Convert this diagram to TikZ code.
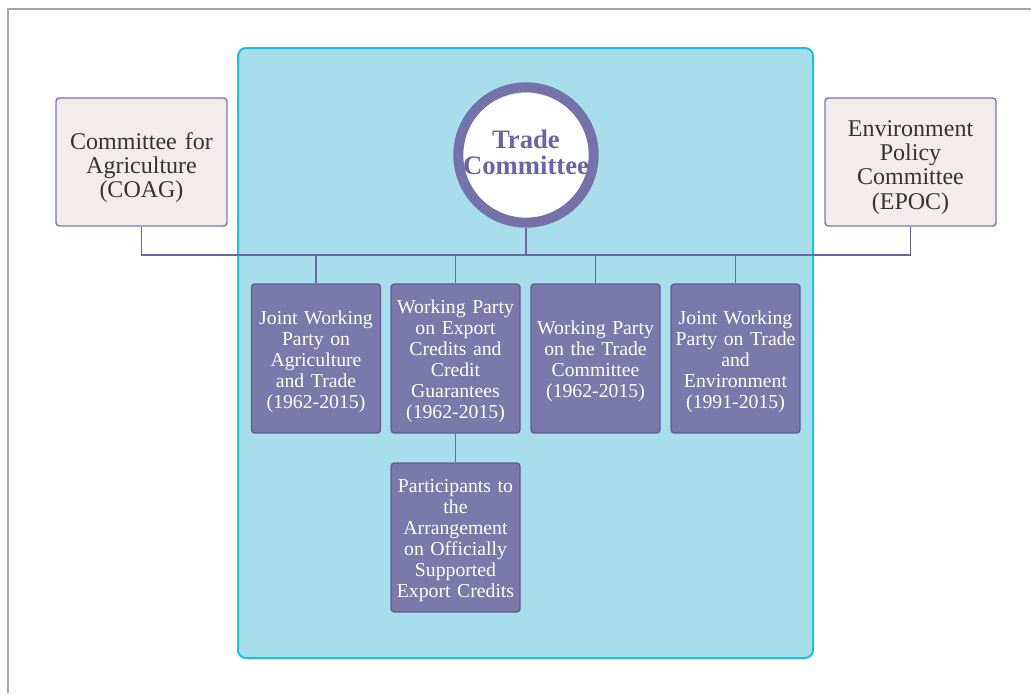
\documentclass[tikz,border=0pt]{standalone}
\usepackage{fontspec}
\setmainfont{Liberation Serif}
\definecolor{panelfill}{HTML}{A8DDEC}
\definecolor{panelline}{HTML}{1DBFDD}
\definecolor{parentfill}{HTML}{F2ECEC}
\definecolor{lavender}{HTML}{7B78AA}
\definecolor{lavenderdark}{HTML}{5F5C99}
\definecolor{ring}{HTML}{7572A9}
\definecolor{ringtext}{HTML}{6A66A6}
\definecolor{wire}{HTML}{6A67A0}
\definecolor{frame}{HTML}{A6A6A6}
\definecolor{ink}{HTML}{333333}
\definecolor{innershade}{HTML}{DCE0E4}
\tikzset{
  parentbox/.style={draw=lavender, line width=1.1pt, fill=parentfill, rounded corners=2.5pt,
    minimum width=128.25pt, minimum height=96pt, text width=120pt, align=center,
    text=ink, font=\fontsize{18}{18.2}\selectfont, text height=21pt},
  wpbox/.style={draw=lavenderdark, line width=1.1pt, fill=lavender, rounded corners=2.5pt,
    minimum width=96.75pt, minimum height=111.75pt, text width=94pt, align=center,
    text=white, font=\fontsize{14.8}{15.75}\selectfont, inner sep=0pt, text height=14.5pt},
  hub/.style={circle, draw=ring, line width=7.5pt, minimum size=100.5pt,
    inner sep=0pt, align=center, text=ringtext, font=\bfseries\fontsize{20}{20.3}\selectfont,
    text depth=4.5pt,
    path picture={
      \fill[innershade] (path picture bounding box.south west) rectangle (path picture bounding box.north east);
      \fill[white] ([yshift=-2.2pt]path picture bounding box.center) circle (48.6pt);
    }},
  wire/.style={draw=wire, line width=1.1pt}
}
\begin{document}
\begin{tikzpicture}[x=0.75pt, y=-0.75pt]
\useasboundingbox (0,0) rectangle (1031,693);
\fill[white] (0,0) rectangle (1031,693);
% page frame
\draw[frame, line width=1.1pt] (8,693) -- (8,9) -- (1031,9);
% Trade Committee area
\draw[fill=panelfill, draw=panelline, line width=1.5pt, rounded corners=6pt]
  (238,48) rectangle (813,658);

% parent committees and hub
\node[parentbox] (coag) at (141.5,162) {Committee for\\Agriculture\\(COAG)};
\node[parentbox, text height=20pt] (epoc) at (910.5,162) {Environment\\Policy\\Committee\\(EPOC)};
\node[hub] (tc) at (526,155) {Trade\\[-1pt]Committee};

% working parties
\node[wpbox] (jwat) at (316,358.5) {Joint Working\\Party on\\Agriculture\\and Trade\\(1962-2015)};
\node[wpbox] (wpec) at (455.5,358.5) {Working Party\\on Export\\Credits and\\Credit\\Guarantees\\(1962-2015)};
\node[wpbox] (wptc) at (595.5,358.5) {Working Party\\on the Trade\\Committee\\(1962-2015)};
\node[wpbox] (jwte) at (735.5,358.5) {Joint Working\\Party on Trade\\and\\Environment\\(1991-2015)};
\node[wpbox] (part) at (455.5,537.5) {Participants to\\the\\Arrangement\\on Officially\\Supported\\Export Credits};

% connectors
\coordinate (bus) at (141,255);
\draw[wire] (coag.south) -- (coag.south |- bus) -- (epoc.south |- bus) -- (epoc.south);
\draw[wire] (tc.south) -- (tc.south |- bus);
\draw[wire] (jwat.north) -- (jwat.north |- bus);
\draw[wire] (wpec.north) -- (wpec.north |- bus);
\draw[wire] (wptc.north) -- (wptc.north |- bus);
\draw[wire] (jwte.north) -- (jwte.north |- bus);
\draw[wire] (wpec.south) -- (part.north);
\end{tikzpicture}
\end{document}
